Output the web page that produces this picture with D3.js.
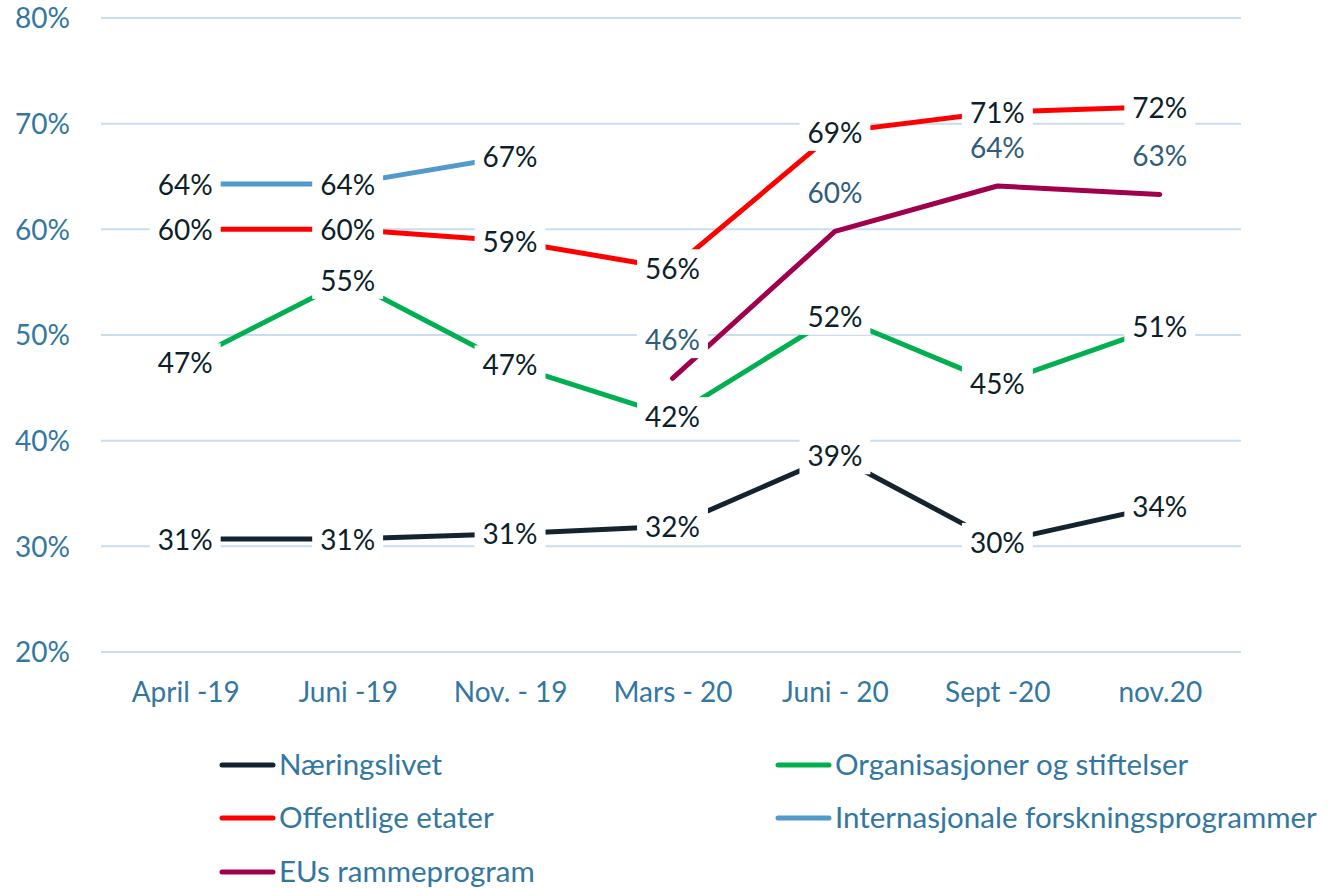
<!DOCTYPE html>
<html>
<head>
<meta charset="utf-8">
<script src="https://cdn.jsdelivr.net/npm/d3@7"></script>
<style>
body { margin:0; background:#fff; }
text { font-family: Lato, "Open Sans", sans-serif; }
</style>
</head>
<body>
<div id="chart"></div>
<script>
var categories = ["April -19", "Juni -19", "Nov. - 19", "Mars - 20", "Juni - 20", "Sept -20", "nov.20"];
var yTicks = [0.2, 0.3, 0.4, 0.5, 0.6, 0.7, 0.8];

var naeringslivet = [0.307, 0.307, 0.312, 0.319, 0.386, 0.304, 0.338];
var organisasjoner = [0.474, 0.552, 0.472, 0.423, 0.518, 0.454, 0.508];
var offentlige = [0.600, 0.600, 0.589, 0.563, 0.692, 0.711, 0.716];
var internasjonale = [0.643, 0.643, 0.669, null, null, null, null];
var eus = [null, null, null, 0.459, 0.598, 0.641, 0.633];

var seriesNames = ["Næringslivet", "Organisasjoner og stiftelser", "Offentlige etater", "Internasjonale forskningsprogrammer", "EUs rammeprogram"];
var seriesColors = ["#13242e", "#00b050", "#ff0000", "#529acb", "#a0004c"];

var W = 1332, H = 888;
var axisColor = "#3377a0";
var fs = "28px";

var svg = d3.select("#chart").append("svg").attr("width", W).attr("height", H);

var x = d3.scalePoint().domain(categories).range([104, 1241]).padding(0.5);
var y = d3.scaleLinear().domain([0.2, 0.8]).range([652, 18]);

// gridlines
svg.append("g").selectAll("line").data(yTicks).enter().append("line")
  .attr("x1", 101).attr("x2", 1241)
  .attr("y1", function(d){ return y(d); }).attr("y2", function(d){ return y(d); })
  .style("stroke", "#c9ddee").style("stroke-width", 2);

// y axis
var yAxis = d3.axisLeft(y).tickValues(yTicks).tickFormat(d3.format(".0%")).tickSize(0).tickPadding(0);
var gy = svg.append("g").attr("transform", "translate(70,0)").call(yAxis);
gy.select(".domain").remove();
gy.selectAll("text").style("font-size", fs).style("fill", axisColor).attr("dy", "0.35em");

// x axis
var xAxis = d3.axisBottom(x).tickSize(0).tickPadding(0);
var gx = svg.append("g").attr("transform", "translate(0,692)").call(xAxis);
gx.select(".domain").remove();
gx.selectAll("text").style("font-size", fs).style("fill", axisColor).attr("dy", "0.35em");

var allSeries = [naeringslivet, organisasjoner, offentlige, internasjonale, eus];

var line = d3.line()
  .defined(function(d){ return d != null; })
  .x(function(d, i){ return x(categories[i]); })
  .y(function(d){ return y(d); });

var linesG = svg.append("g");
allSeries.forEach(function(s, k){
  linesG.append("path").datum(s)
    .attr("d", line)
    .style("fill", "none")
    .style("stroke", seriesColors[k])
    .style("stroke-width", 5)
    .style("stroke-linecap", "round")
    .style("stroke-linejoin", "round");
});

// data labels with white background
var labelsG = svg.append("g");
allSeries.forEach(function(s, k){
  s.forEach(function(v, i){
    if (v == null) return;
    var above = (k === 4);
    var cx = x(categories[i]);
    var cy = above ? y(v) - 38 : y(v) + 1;
    var g = labelsG.append("g");
    var t = g.append("text")
      .attr("x", cx).attr("y", cy)
      .attr("text-anchor", "middle").attr("dy", "0.35em")
      .style("font-size", fs)
      .style("fill", above ? "#2f5d7d" : "#0d1f2a")
      .text(Math.round(v * 100) + "%");
    var bb = t.node().getBBox();
    g.insert("rect", "text")
      .attr("x", bb.x - 8).attr("y", bb.y - 2)
      .attr("width", bb.width + 16).attr("height", bb.height + 4)
      .style("fill", "#fff");
  });
});

// legend
var legendPos = [[220, 765], [776, 765], [220, 818], [776, 818], [220, 872]];
var lg = svg.append("g");
seriesNames.forEach(function(name, k){
  var p = legendPos[k];
  lg.append("line")
    .attr("x1", p[0] + 2).attr("x2", p[0] + 53)
    .attr("y1", p[1]).attr("y2", p[1])
    .style("stroke", seriesColors[k]).style("stroke-width", 5)
    .style("stroke-linecap", "round");
  lg.append("text")
    .attr("x", p[0] + 59).attr("y", p[1]).attr("dy", "0.35em")
    .style("font-size", "29.5px").style("fill", axisColor)
    .text(name);
});
</script>
</body>
</html>
